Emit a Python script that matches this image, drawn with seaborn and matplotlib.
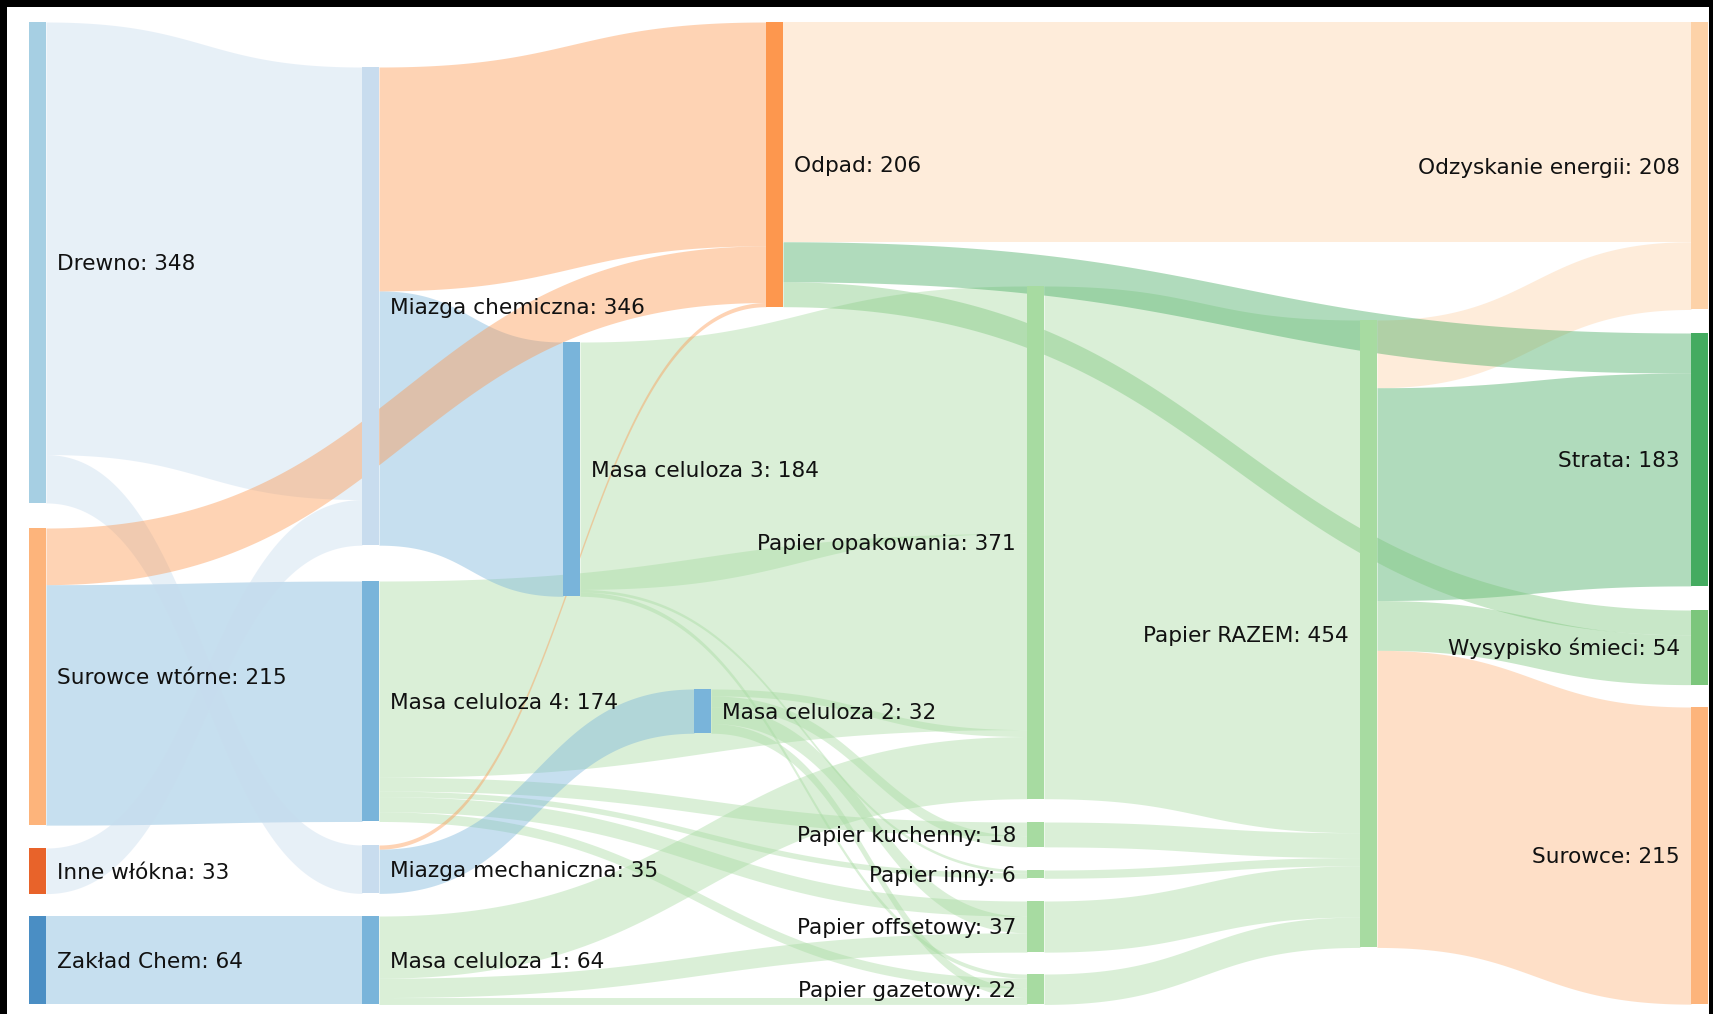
import numpy as np
import matplotlib
matplotlib.use("Agg")
import matplotlib.pyplot as plt
import seaborn as sns

# ---------------- data ----------------
node_names = ["Drewno", "Surowce wtórne", "Inne włókna", "Zakład Chem",
              "Miazga chemiczna", "Masa celuloza 4", "Miazga mechaniczna", "Masa celuloza 1",
              "Masa celuloza 3", "Masa celuloza 2", "Odpad",
              "Papier opakowania", "Papier kuchenny", "Papier inny", "Papier offsetowy",
              "Papier gazetowy", "Papier RAZEM",
              "Odzyskanie energii", "Strata", "Wysypisko śmieci", "Surowce"]

link_source = ["Drewno", "Drewno", "Inne włókna", "Surowce wtórne", "Surowce wtórne",
               "Zakład Chem",
               "Miazga chemiczna", "Miazga chemiczna", "Miazga mechaniczna", "Miazga mechaniczna",
               "Masa celuloza 3", "Masa celuloza 3", "Masa celuloza 3",
               "Masa celuloza 4", "Masa celuloza 4", "Masa celuloza 4", "Masa celuloza 4", "Masa celuloza 4",
               "Masa celuloza 2", "Masa celuloza 2", "Masa celuloza 2", "Masa celuloza 2",
               "Masa celuloza 1", "Masa celuloza 1", "Masa celuloza 1",
               "Papier opakowania", "Papier kuchenny", "Papier inny", "Papier offsetowy", "Papier gazetowy",
               "Odpad", "Odpad", "Odpad",
               "Papier RAZEM", "Papier RAZEM", "Papier RAZEM", "Papier RAZEM"]
link_target = ["Miazga chemiczna", "Miazga mechaniczna", "Miazga chemiczna", "Odpad", "Masa celuloza 4",
               "Masa celuloza 1",
               "Odpad", "Masa celuloza 3", "Odpad", "Masa celuloza 2",
               "Papier opakowania", "Papier inny", "Papier gazetowy",
               "Papier opakowania", "Papier kuchenny", "Papier inny", "Papier offsetowy", "Papier gazetowy",
               "Papier opakowania", "Papier kuchenny", "Papier offsetowy", "Papier gazetowy",
               "Papier opakowania", "Papier offsetowy", "Papier gazetowy",
               "Papier RAZEM", "Papier RAZEM", "Papier RAZEM", "Papier RAZEM", "Papier RAZEM",
               "Odzyskanie energii", "Strata", "Wysypisko śmieci",
               "Odzyskanie energii", "Strata", "Wysypisko śmieci", "Surowce"]
link_value = [313, 35, 33, 41, 174,
              64,
              162, 184, 3, 32,
              179, 2, 3,
              142, 10, 4, 11, 7,
              5, 8, 12, 7,
              45, 14, 5,
              371, 18, 6, 37, 22,
              159, 29, 18,
              49, 154, 36, 215]

# ---------------- layout / style (pixel space) ----------------
W, H = 1713, 1014
SCALE = 1.382          # px per unit
NODE_W = 17
node_layout = {        # name: (left x, top y)
    "Drewno": (29, 22), "Surowce wtórne": (29, 528), "Inne włókna": (29, 848), "Zakład Chem": (29, 916),
    "Miazga chemiczna": (362, 67), "Masa celuloza 4": (362, 581),
    "Miazga mechaniczna": (362, 845), "Masa celuloza 1": (362, 916),
    "Masa celuloza 3": (563, 342), "Masa celuloza 2": (694, 689), "Odpad": (766, 22),
    "Papier opakowania": (1027, 286), "Papier kuchenny": (1027, 822), "Papier inny": (1027, 870),
    "Papier offsetowy": (1027, 901), "Papier gazetowy": (1027, 974),
    "Papier RAZEM": (1360, 320),
    "Odzyskanie energii": (1691, 22), "Strata": (1691, 333),
    "Wysypisko śmieci": (1691, 610), "Surowce": (1691, 707),
}
node_color = {
    "Drewno": "#a6cfe3", "Surowce wtórne": "#fdb47b", "Inne włókna": "#e8632a", "Zakład Chem": "#4a8ec4",
    "Miazga chemiczna": "#c8dcee", "Masa celuloza 4": "#79b4da", "Miazga mechaniczna": "#c8dcee",
    "Masa celuloza 1": "#79b4da", "Masa celuloza 3": "#79b4da", "Masa celuloza 2": "#79b4da",
    "Odpad": "#fd974e",
    "Papier opakowania": "#a7dba1", "Papier kuchenny": "#a7dba1", "Papier inny": "#a7dba1",
    "Papier offsetowy": "#a7dba1", "Papier gazetowy": "#a7dba1", "Papier RAZEM": "#a7dba1",
    "Odzyskanie energii": "#fdd2a8", "Strata": "#44ab60", "Wysypisko śmieci": "#7cc67c",
    "Surowce": "#fdb47b",
}
# drawing order of links, grouped by target (later = on top)
draw_order = ["Papier opakowania", "Papier kuchenny", "Papier inny", "Papier offsetowy",
              "Papier gazetowy", "Papier RAZEM", "Odzyskanie energii", "Surowce",
              "Strata", "Wysypisko śmieci",
              "Masa celuloza 3", "Masa celuloza 4", "Masa celuloza 1", "Masa celuloza 2",
              "Miazga chemiczna", "Miazga mechaniczna", "Odpad"]
LINK_ALPHA = 0.42

sns.set_theme(style="white")
plt.rcParams["font.family"] = ["DejaVu Sans"]
FS = 15.6  # pt

fig = plt.figure(figsize=(W / 100, H / 100), dpi=100)
ax = fig.add_axes([0, 0, 1, 1])
ax.set_xlim(0, W)
ax.set_ylim(H, 0)
ax.axis("off")

# node values
vin = {n: 0 for n in node_names}
vout = {n: 0 for n in node_names}
for s, t, v in zip(link_source, link_target, link_value):
    vout[s] += v
    vin[t] += v
node_value = {n: max(vin[n], vout[n]) for n in node_names}

# link ordering (like d3-sankey: by position of the other end)
links = list(zip(link_source, link_target, link_value))
out_off = {}
in_off = {}
for n in node_names:
    outs = sorted([l for l in links if l[0] == n], key=lambda l: node_layout[l[1]][1])
    y = node_layout[n][1]
    for l in outs:
        out_off[l] = y
        y += l[2] * SCALE
    ins = sorted([l for l in links if l[1] == n], key=lambda l: node_layout[l[0]][1])
    y = node_layout[n][1]
    for l in ins:
        in_off[l] = y
        y += l[2] * SCALE

t = np.linspace(0, 1, 240)
b0 = (1 - t) ** 3
b1 = 3 * (1 - t) ** 2 * t
b2 = 3 * (1 - t) * t ** 2
b3 = t ** 3
for l in sorted(links, key=lambda l: draw_order.index(l[1])):
    s, tg, v = l
    x0 = node_layout[s][0] + NODE_W
    x1 = node_layout[tg][0]
    xm = (x0 + x1) / 2
    xs = x0 * b0 + xm * b1 + xm * b2 + x1 * b3
    ys0 = out_off[l]
    yt0 = in_off[l]
    th = v * SCALE
    ytop = ys0 * (b0 + b1) + yt0 * (b2 + b3)
    ybot = ytop + th
    ax.fill_between(xs, ytop, ybot, color=node_color[tg], alpha=LINK_ALPHA, lw=0, zorder=1)

# nodes
for n in node_names:
    x, y = node_layout[n]
    h = node_value[n] * SCALE
    ax.bar(x + NODE_W / 2, h, bottom=y, width=NODE_W, color=node_color[n], lw=0, zorder=2)
    cy = y + h / 2
    fs_px = FS * 100 / 72
    label = f"{n}: {node_value[n]}"
    if x < W / 2:
        ax.text(x + NODE_W + 11, cy + 0.36 * fs_px, label, ha="left", va="baseline",
                fontsize=FS, color="#111111", zorder=3)
    else:
        ax.text(x - 11, cy + 0.36 * fs_px, label, ha="right", va="baseline",
                fontsize=FS, color="#111111", zorder=3)

# black frame edges
ax.add_patch(plt.Rectangle((0, 0), W, 7, color="black", lw=0, zorder=5))
ax.add_patch(plt.Rectangle((0, 0), 7, H, color="black", lw=0, zorder=5))
ax.add_patch(plt.Rectangle((W - 4, 0), 4, H, color="black", lw=0, zorder=5))

fig.savefig("out.png", dpi=100)
